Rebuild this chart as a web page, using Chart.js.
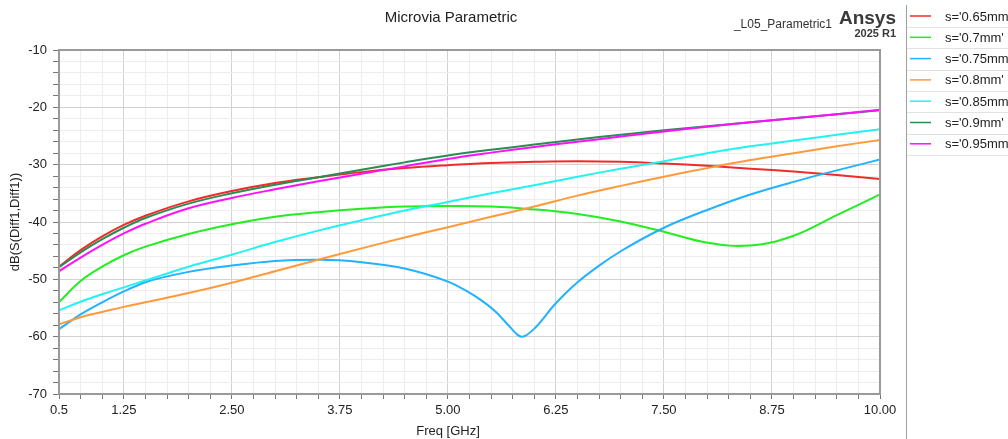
<!DOCTYPE html>
<html>
<head>
<meta charset="utf-8">
<script src="https://cdn.jsdelivr.net/npm/chart.js@4.4.1/dist/chart.umd.min.js"></script>
<style>
  body { margin: 0; background: #fff; }
  #wrap { width: 1008px; height: 439px; position: relative; }
</style>
</head>
<body>
<div id="wrap"><canvas id="chart"></canvas></div>
<script>
// frequency points (GHz) shared by most traces
const freq = [0.5, 0.75, 1, 1.25, 1.5, 2, 2.5, 3, 3.5, 4, 4.5, 5, 5.5, 6, 6.5, 7, 7.5, 8, 8.5, 9, 9.5, 10];
// the 0.75mm trace has a sharp notch, so it gets its own denser sweep
const freq075 = [0.5, 0.75, 1, 1.25, 1.5, 2, 2.5, 3, 3.5, 4, 4.5, 5, 5.2, 5.4, 5.55, 5.7, 5.8, 5.85, 5.9, 6, 6.1, 6.2, 6.35, 6.5, 6.75, 7, 7.5, 8, 8.5, 9, 9.5, 10];

const s065 = [-47.8, -44.9, -42.5, -40.5, -38.9, -36.4, -34.6, -33.2, -32.2, -31.3, -30.6, -30.1, -29.7, -29.5, -29.4, -29.5, -29.8, -30.2, -30.7, -31.2, -31.8, -32.5];
const s07 = [-54.0, -50.3, -47.8, -45.8, -44.3, -42.1, -40.4, -39.1, -38.3, -37.7, -37.3, -37.2, -37.3, -37.8, -38.6, -39.9, -41.7, -43.6, -44.1, -42.4, -38.8, -35.2];
const s075 = [-58.7, -56.1, -54.0, -52.1, -50.5, -48.7, -47.6, -46.8, -46.6, -47.0, -48.1, -50.4, -51.9, -53.8, -55.6, -58.0, -59.6, -60.0, -59.8, -58.6, -56.9, -55.0, -52.6, -50.5, -47.6, -45.1, -41.0, -37.9, -35.2, -33.0, -31.0, -29.1];
const s08 = [-57.85, -56.6, -55.7, -54.8, -54.0, -52.4, -50.6, -48.6, -46.6, -44.6, -42.7, -40.9, -39.1, -37.3, -35.4, -33.7, -32.1, -30.6, -29.2, -28.0, -26.8, -25.7];
const s085 = [-55.4, -53.9, -52.6, -51.4, -50.2, -47.8, -45.7, -43.5, -41.5, -39.7, -38.0, -36.5, -35.0, -33.6, -32.1, -30.7, -29.4, -28.0, -26.8, -25.8, -24.8, -23.8];
const s09 = [-47.9, -45.3, -43.0, -41.0, -39.3, -36.8, -35.0, -33.5, -32.2, -30.9, -29.6, -28.4, -27.4, -26.5, -25.6, -24.8, -24.0, -23.3, -22.6, -21.9, -21.2, -20.5];
const s095 = [-48.6, -46.2, -44.0, -42.0, -40.3, -37.6, -35.8, -34.3, -32.9, -31.6, -30.3, -29.0, -27.9, -26.9, -26.0, -25.1, -24.2, -23.4, -22.6, -21.9, -21.2, -20.4];

const seriesNames = ["s='0.65mm'", "s='0.7mm'", "s='0.75mm'", "s='0.8mm'", "s='0.85mm'", "s='0.9mm'", "s='0.95mm'"];
const seriesX = [freq, freq, freq075, freq, freq, freq, freq];
const seriesY = [s065, s07, s075, s08, s085, s09, s095];
const colors = ['#f22a2a', '#22ee22', '#22b2ff', '#ff9a3a', '#22f2f2', '#2a8c55', '#ff10ff'];

const FONT = 'Arial, "Liberation Sans", sans-serif';

const datasets = seriesY.map((vals, i) => ({
    label: seriesNames[i],
    data: vals.map((v, j) => ({ x: seriesX[i][j], y: v })),
    borderColor: colors[i],
    backgroundColor: colors[i],
    borderWidth: 2,
    pointRadius: 0,
    tension: 0.4,
    // the notch trace overshoots with a plain bezier, monotone keeps it clean
    cubicInterpolationMode: seriesX[i] === freq075 ? 'monotone' : 'default',
    order: seriesY.length - i
}));

function isMajorX(v) {
    const r = v / 1.25;
    return Math.abs(r - Math.round(r)) < 1e-6;
}

// frame, titles, Ansys mark and the boxed legend on the right
const decorations = {
    id: 'decorations',
    afterDraw(chart) {
        const ctx = chart.ctx;
        const a = chart.chartArea;
        ctx.save();

        ctx.strokeStyle = '#9a9a9a';
        ctx.lineWidth = 2;
        ctx.strokeRect(a.left, a.top, a.right - a.left, a.bottom - a.top);

        ctx.fillStyle = '#222';
        ctx.textBaseline = 'middle';
        ctx.textAlign = 'center';
        ctx.font = '15px ' + FONT;
        ctx.fillText('Microvia Parametric', 451, 18);

        ctx.font = '13px ' + FONT;
        ctx.fillText('Freq [GHz]', 448, 431);

        ctx.save();
        ctx.translate(15, 222);
        ctx.rotate(-Math.PI / 2);
        ctx.fillText('dB(S(Diff1,Diff1))', 0, 0);
        ctx.restore();

        ctx.textAlign = 'right';
        ctx.font = '12px ' + FONT;
        ctx.fillStyle = '#333';
        ctx.fillText('_L05_Parametric1', 832, 25);
        ctx.font = 'bold 19px ' + FONT;
        ctx.fillStyle = '#3a3a3a';
        ctx.fillText('Ansys', 896, 19);
        ctx.font = 'bold 11px ' + FONT;
        ctx.fillText('2025 R1', 896, 34);

        // legend box
        ctx.strokeStyle = '#a0a0a0';
        ctx.lineWidth = 1;
        ctx.beginPath();
        ctx.moveTo(906.5, 5);
        ctx.lineTo(906.5, 439);
        ctx.stroke();

        ctx.textAlign = 'left';
        ctx.font = '13px ' + FONT;
        seriesNames.forEach((name, i) => {
            const y = 16 + i * 21.3;
            ctx.strokeStyle = colors[i];
            ctx.lineWidth = 1.5;
            ctx.beginPath();
            ctx.moveTo(910, y);
            ctx.lineTo(931, y);
            ctx.stroke();
            ctx.fillStyle = '#222';
            ctx.fillText(name, 945, y + 1);
            ctx.strokeStyle = '#e2e2e2';
            ctx.lineWidth = 1;
            ctx.beginPath();
            ctx.moveTo(907, Math.round(y + 11) + 0.5);
            ctx.lineTo(1008, Math.round(y + 11) + 0.5);
            ctx.stroke();
        });
        ctx.restore();
    }
};

new Chart(document.getElementById('chart'), {
    type: 'line',
    data: { datasets: datasets },
    options: {
        responsive: true,
        maintainAspectRatio: false,
        animation: false,
        layout: { padding: { top: 50, right: 128, left: 0, bottom: 0 } },
        plugins: {
            legend: { display: false },
            tooltip: { enabled: false }
        },
        scales: {
            x: {
                type: 'linear',
                min: 0.5,
                max: 10,
                afterFit: (scale) => { scale.height = 45; },
                ticks: {
                    stepSize: 0.25,
                    autoSkip: false,
                    maxRotation: 0,
                    padding: 4,
                    color: '#222',
                    font: { family: FONT, size: 13 },
                    callback: (v) => {
                        if (Math.abs(v - 0.5) < 1e-6) return '0.5';
                        return isMajorX(v) ? v.toFixed(2) : '';
                    }
                },
                grid: {
                    color: (c) => isMajorX(c.tick.value) ? '#d2d2d2' : '#ededed',
                    tickColor: '#777',
                    tickLength: 5
                },
                border: { color: '#9a9a9a', width: 2 }
            },
            y: {
                min: -70,
                max: -10,
                afterFit: (scale) => { scale.width = 59; },
                ticks: {
                    stepSize: 2,
                    autoSkip: false,
                    padding: 6,
                    color: '#222',
                    font: { family: FONT, size: 13 },
                    callback: (v) => (Math.round(v) % 10 === 0 ? String(v) : '')
                },
                grid: {
                    color: (c) => (Math.round(c.tick.value) % 10 === 0 ? '#d2d2d2' : '#ededed'),
                    tickColor: '#777',
                    tickLength: 6
                },
                border: { color: '#9a9a9a', width: 2 }
            }
        }
    },
    plugins: [decorations]
});
</script>
</body>
</html>
